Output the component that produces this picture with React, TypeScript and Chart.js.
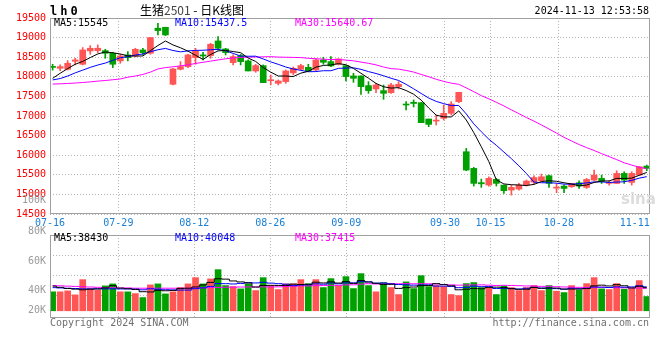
import React, { useEffect, useRef } from 'react';
import { Chart, registerables } from 'chart.js';

Chart.register(...registerables);

// ---------- data ----------
const dates = [
  '07-16','07-17','07-18','07-19','07-22','07-23','07-24','07-25','07-26','07-29',
  '07-30','07-31','08-01','08-02','08-05','08-06','08-07','08-08','08-09','08-12',
  '08-13','08-14','08-15','08-16','08-19','08-20','08-21','08-22','08-23','08-26',
  '08-27','08-28','08-29','08-30','09-02','09-03','09-04','09-05','09-06','09-09',
  '09-10','09-11','09-12','09-13','09-18','09-19','09-20','09-23','09-24','09-25',
  '09-26','09-27','09-30','10-08','10-09','10-10','10-11','10-14','10-15','10-16',
  '10-17','10-18','10-21','10-22','10-23','10-24','10-25','10-28','10-29','10-30',
  '10-31','11-01','11-04','11-05','11-06','11-07','11-08','11-11','11-12','11-13',
];

const tickDates = ['07-16','07-29','08-12','08-26','09-09','09-30','10-15','10-28','11-11'];

const opens = [
  18250,18217,18192,18396,18320,18660,18668,18668,18600,18405,
  18558,18532,18685,18600,19239,19264,17809,18192,18260,18490,
  18560,18541,18915,18711,18362,18541,18405,18149,18285,17900,
  17834,17877,18100,18192,18243,18175,18430,18388,18320,18285,
  18022,18022,17775,17690,17647,17596,17749,17300,17350,17340,
  16923,16870,16940,17068,17366,16089,15664,15300,15238,15383,
  15238,15111,15136,15238,15315,15348,15476,15160,15212,15195,
  15297,15178,15365,15408,15280,15280,15535,15306,15493,15722,
];
const highs = [
  18320,18303,18413,18473,18745,18796,18813,18702,18626,18575,
  18643,18728,18728,19000,19366,19264,18217,18388,18575,18728,
  18626,18855,19026,18728,18558,18575,18430,18320,18303,18047,
  17920,18175,18250,18320,18320,18456,18498,18515,18456,18285,
  18090,18022,17877,17834,17792,17834,17877,17366,17410,17340,
  16923,17025,17281,17366,17604,16174,15689,15391,15451,15409,
  15238,15238,15281,15366,15475,15518,15493,15280,15237,15280,
  15348,15408,15620,15493,15348,15603,15578,15578,15706,15748,
];
const lows = [
  18170,18158,18175,18303,18303,18575,18617,18473,18234,18345,
  18405,18507,18558,18575,19068,19051,17792,18175,18234,18320,
  18430,18473,18685,18558,18303,18303,18149,18115,17851,17792,
  17792,17834,18047,18175,18132,18149,18320,18260,18302,17894,
  17860,17553,17579,17596,17426,17579,17690,17153,17230,16830,
  16728,16770,16898,17025,17340,15604,15213,15179,15213,15213,
  15026,14983,15111,15213,15260,15323,15178,15042,15042,15178,
  15152,15152,15348,15280,15237,15280,15280,15237,15493,15603,
];
const closes = [
  18240,18260,18345,18430,18685,18728,18728,18600,18320,18532,
  18490,18702,18617,19000,19179,19068,18200,18260,18558,18660,
  18530,18830,18728,18617,18515,18388,18149,18285,17851,17920,
  17894,18149,18217,18285,18149,18430,18370,18277,18456,18005,
  17962,17749,17647,17792,17579,17792,17809,17280,17320,16830,
  16787,16890,17068,17306,17604,15621,15281,15270,15409,15281,
  15094,15179,15238,15340,15430,15450,15280,15170,15152,15280,
  15212,15382,15493,15340,15295,15535,15365,15535,15706,15663,
];

const ma5 = [
  17960,18090,18210,18320,18392,18490,18583,18634,18612,18582,
  18534,18529,18532,18668,18798,18913,18813,18741,18653,18549,
  18442,18568,18661,18673,18644,18616,18479,18391,18238,18119,
  18020,18020,18006,18093,18139,18246,18290,18302,18336,18308,
  18214,18090,17964,17831,17746,17712,17724,17650,17556,17406,
  17205,17021,16979,16976,17131,16898,16576,16216,15837,15372,
  15267,15247,15240,15226,15256,15327,15348,15334,15296,15266,
  15219,15239,15304,15341,15344,15409,15406,15414,15487,15561,
];
const ma10 = [
  17920,17955,18020,18100,18170,18240,18300,18350,18420,18487,
  18512,18556,18583,18640,18690,18724,18671,18637,18661,18673,
  18677,18690,18701,18663,18597,18529,18524,18526,18455,18381,
  18318,18250,18199,18165,18129,18133,18155,18154,18215,18223,
  18230,18190,18133,18084,18027,17963,17907,17807,17694,17576,
  17459,17373,17315,17266,17269,17052,16799,16598,16407,16252,
  16082,15911,15728,15532,15314,15297,15297,15287,15261,15261,
  15273,15293,15319,15319,15305,15314,15322,15359,15414,15453,
];
const ma30 = [
  17815,17820,17830,17840,17855,17870,17890,17905,17925,17945,
  17990,18020,18060,18120,18200,18235,18255,18280,18305,18340,
  18370,18400,18430,18460,18480,18495,18500,18505,18510,18514,
  18503,18499,18495,18490,18472,18462,18450,18439,18444,18426,
  18408,18376,18344,18304,18250,18208,18195,18162,18121,18060,
  18002,17937,17882,17838,17808,17716,17620,17519,17438,17350,
  17257,17158,17059,16961,16870,16771,16668,16564,16454,16363,
  16272,16193,16121,16039,15963,15888,15806,15748,15694,15655,
];

const volumes = [
  31500,31500,33100,26500,51800,36400,34300,41400,44700,31500,
  31500,28600,22000,43000,44700,28100,31500,38600,44700,55100,
  44700,53000,68400,41900,40200,36400,44700,33600,55100,41900,
  35300,44700,44700,51800,44700,51800,38600,53500,41900,56800,
  36900,61800,41900,31500,46900,38600,27000,48000,36900,58400,
  40200,41900,40200,27000,25300,45200,46900,38600,38600,27000,
  41400,38600,33600,38600,41900,33600,41900,32600,30300,41900,
  34300,45200,55100,36400,35300,45200,35900,36900,50200,23700,
];
const volMa5 = [
  41000,39000,37000,36000,34900,35900,36400,38100,41700,37700,
  36700,35500,31700,31300,34000,33300,33900,37200,37500,39600,
  42900,47200,53200,52600,49600,48000,46300,39400,42000,42300,
  42100,42100,44300,43700,44200,47500,46300,48100,46100,48500,
  45500,50200,47900,45800,43800,44100,37200,38400,39500,41800,
  42100,45100,43500,41500,34900,35900,36900,36600,38900,39300,
  38500,36800,35800,35800,38800,37300,37900,37700,36100,36100,
  36200,36900,41400,42600,41300,43400,41600,37900,40700,38400,
];
const volMa10 = [
  38500,38000,37500,37000,36500,36500,36500,36500,36500,36300,
  36300,36000,34900,36500,35800,35000,34700,34400,34400,36800,
  38100,40500,45200,45100,44600,45500,46800,46300,47300,46000,
  45100,44200,41900,42800,43300,44800,44200,46200,44900,46400,
  46500,48300,48000,45900,46200,44800,43700,43100,42600,42800,
  43100,41100,41000,40500,38400,39000,41000,40100,40200,37100,
  37200,36900,36200,37400,39000,37900,37400,36800,36000,37400,
  36700,37400,39500,39300,38700,39800,39200,39700,41600,39800,
];
const volMa30 = [
  42000,41500,41000,40500,40000,39500,39000,38500,38500,38000,
  38000,37500,37500,37500,37500,37500,37500,37500,37500,38000,
  38200,38500,38800,39100,39300,39500,39600,39700,39700,39700,
  39800,40300,40700,41500,41300,41800,41900,42300,42200,43100,
  43200,44300,45000,44600,44700,45000,44900,45200,44900,45000,
  44900,44500,43600,43100,42600,42900,43000,43100,42600,42100,
  42300,42100,41700,41300,41200,40600,40700,40000,39600,39100,
  39000,38500,38900,39100,38700,38300,38200,37900,37900,37400,
];

const priceLegend = ['MA5:15545', 'MA10:15437.5', 'MA30:15640.67'];
const volLegend = ['MA5:38430', 'MA10:40048', 'MA30:37415'];
const volAxisLabels = ['100K', '80K', '60K', '40K', '20K'];

// ---------- styles / layout ----------
const W = 660;
const RED = '#ff5555';
const GREEN = '#00a000';
const GRID = '#b4b4b4';
const FRAME = '#a0a0a0';
const DATE_BLUE = '#1a80d8';
const MONO = '"DejaVu Sans Mono", "Liberation Mono", monospace';
const MA_COLORS = ['#000000', '#0000ff', '#ff00ff'];

const N = dates.length;
const X_MIN = -0.35;
const X_MAX = N - 1 + 0.43;
const tickIdx = tickDates.map((d) => dates.indexOf(d));
const gridValue = (idx: number) => X_MIN + (idx * (X_MAX - X_MIN)) / (N - 1);
const candleColors = closes.map((c, i) => (c >= opens[i] ? RED : GREEN));

const PRICE_MIN = 14500;
const PRICE_MAX = 19500;
const PRICE_STEP = 500;
const VOL_MIN = -12000;
const VOL_MAX = 126000;
const volGridValues = [26100, 59200, 92400];
const volLabelY = [200, 231, 261, 290, 310]; // page y of the volume axis labels
const VOL_CANVAS_TOP = 190;

const framePlugin = {
  id: 'frame',
  afterDraw(chart: any) {
    const { ctx, chartArea: a } = chart;
    ctx.save();
    ctx.strokeStyle = FRAME;
    ctx.lineWidth = 1;
    ctx.strokeRect(Math.round(a.left) + 0.5, Math.round(a.top) + 0.5, Math.round(a.width) - 1, Math.round(a.height) - 1);
    ctx.restore();
  },
};

const volLabelsPlugin = {
  id: 'volLabels',
  afterDraw(chart: any) {
    const { ctx } = chart;
    ctx.save();
    ctx.fillStyle = '#9a9a9a';
    ctx.font = `10px ${MONO}`;
    ctx.textAlign = 'right';
    ctx.textBaseline = 'middle';
    volAxisLabels.forEach((t, i) => ctx.fillText(t, 46, volLabelY[i] - VOL_CANVAS_TOP));
    ctx.restore();
  },
};

const xScale = (showLabels: boolean) => ({
  type: 'linear',
  min: X_MIN,
  max: X_MAX,
  offset: false,
  afterBuildTicks: (s: any) => {
    s.ticks = tickIdx.map((i) => ({ value: gridValue(i) }));
  },
  ticks: {
    display: showLabels,
    autoSkip: false,
    maxRotation: 0,
    padding: 3,
    color: DATE_BLUE,
    font: { family: MONO, size: 10 },
    callback: (_v: any, i: number) => tickDates[i],
  },
  grid: {
    offset: false,
    drawTicks: false,
    lineWidth: 1,
    color: (c: any) => (c.index === tickIdx.length - 1 ? 'rgba(0,0,0,0)' : GRID),
  },
  border: { display: false, dash: [1, 2] },
});

const line = (label: string, data: number[], color: string, stepped: any = false) => ({
  type: 'line',
  label,
  data: data.map((y, x) => ({ x, y })),
  borderColor: color,
  borderWidth: 1,
  pointRadius: 0,
  tension: 0,
  stepped,
  order: 0,
});

export default function App() {
  const priceRef = useRef<HTMLCanvasElement>(null);
  const volRef = useRef<HTMLCanvasElement>(null);

  useEffect(() => {
    const price = new Chart(priceRef.current as HTMLCanvasElement, {
      type: 'bar',
      data: {
        datasets: [
          line('MA5', ma5, MA_COLORS[0]),
          line('MA10', ma10, MA_COLORS[1]),
          line('MA30', ma30, MA_COLORS[2]),
          {
            type: 'bar',
            label: 'wick',
            data: lows.map((l, x) => ({ x, y: [l, highs[x]] })),
            backgroundColor: candleColors,
            barThickness: 1,
            grouped: false,
            order: 2,
          },
          {
            type: 'bar',
            label: 'body',
            data: opens.map((o, x) => ({ x, y: [o, closes[x]] })),
            backgroundColor: candleColors,
            barThickness: 6,
            minBarLength: 1,
            grouped: false,
            order: 1,
          },
        ] as any,
      },
      options: {
        responsive: false,
        animation: false,
        events: [],
        layout: { padding: { left: 0, right: 10, top: 18, bottom: 0 } },
        plugins: { legend: { display: false }, tooltip: { enabled: false } },
        scales: {
          x: { ...xScale(true), afterFit: (s: any) => { s.height = 18; } } as any,
          y: {
            min: PRICE_MIN,
            max: PRICE_MAX,
            ticks: {
              stepSize: PRICE_STEP,
              color: '#ff0000',
              padding: 4,
              font: { family: MONO, size: 10 },
              callback: (v: any) => String(v),
            },
            grid: { drawTicks: false, color: GRID, lineWidth: 1 },
            border: { display: false, dash: [1, 2] },
            afterFit: (s: any) => { s.width = 50; },
          } as any,
        },
      },
      plugins: [framePlugin],
    });

    const vol = new Chart(volRef.current as HTMLCanvasElement, {
      type: 'bar',
      data: {
        datasets: [
          line('MA5', volMa5, MA_COLORS[0], 'middle'),
          line('MA10', volMa10, MA_COLORS[1], 'middle'),
          line('MA30', volMa30, MA_COLORS[2], 'middle'),
          {
            type: 'bar',
            label: 'volume',
            data: volumes.map((y, x) => ({ x, y })),
            backgroundColor: candleColors,
            barThickness: 6,
            grouped: false,
            order: 1,
          },
        ] as any,
      },
      options: {
        responsive: false,
        animation: false,
        events: [],
        layout: { padding: { left: 0, right: 10, top: 45, bottom: 0 } },
        plugins: { legend: { display: false }, tooltip: { enabled: false } },
        scales: {
          x: { ...xScale(false), afterFit: (s: any) => { s.height = 42; } } as any,
          y: {
            min: VOL_MIN,
            max: VOL_MAX,
            afterBuildTicks: (s: any) => {
              s.ticks = volGridValues.map((value) => ({ value }));
            },
            ticks: { display: false },
            grid: { drawTicks: false, color: GRID, lineWidth: 1 },
            border: { display: false, dash: [1, 2] },
            afterFit: (s: any) => { s.width = 50; },
          } as any,
        },
      },
      plugins: [framePlugin, volLabelsPlugin],
    });

    return () => {
      price.destroy();
      vol.destroy();
    };
  }, []);

  const txt = (
    key: string,
    text: React.ReactNode,
    x: number,
    y: number,
    color: string,
    opts: { size?: number; bold?: boolean; family?: string; right?: boolean; spacing?: number } = {}
  ) => {
    const size = opts.size ?? 10;
    const style: React.CSSProperties = {
      position: 'absolute',
      top: y,
      transform: 'translateY(-50%)',
      color,
      fontFamily: opts.family ?? MONO,
      fontSize: size,
      fontWeight: opts.bold ? 'bold' : 'normal',
      lineHeight: `${size + 2}px`,
      whiteSpace: 'nowrap',
      letterSpacing: opts.spacing ? `${opts.spacing}px` : undefined,
    };
    if (opts.right) style.right = W - x;
    else style.left = x;
    return (
      <div key={key} style={style}>
        {text}
      </div>
    );
  };

  return (
    <div style={{ position: 'absolute', left: 0, top: 0, width: W, height: 360, background: '#fff', overflow: 'hidden' }}>
      <canvas ref={priceRef} width={W} height={232} style={{ position: 'absolute', left: 0, top: 0 }} />
      <canvas ref={volRef} width={W} height={170} style={{ position: 'absolute', left: 0, top: VOL_CANVAS_TOP }} />
      {txt('code', 'lh0', 50, 11, '#000', { size: 12, bold: true, spacing: 3 })}
      {txt(
        'title',
        <span>
          生猪<span style={{ color: '#444' }}>2501</span> - 日K线图
        </span>,
        140,
        10,
        '#000',
        { size: 12, family: '"Noto Sans CJK SC", "Noto Sans", sans-serif' }
      )}
      {txt('time', '2024-11-13 12:53:58', 649, 11, '#000', { right: true })}
      {priceLegend.map((t, i) => txt('pl' + i, t, [54, 175, 295][i], 23, MA_COLORS[i]))}
      {volLegend.map((t, i) => txt('vl' + i, t, [54, 175, 295][i], 238, MA_COLORS[i]))}
      {txt('sina', 'sina', 621, 199, '#dcdcdc', { size: 15, bold: true, family: 'Verdana, "DejaVu Sans", sans-serif' })}
      {txt('copy', 'Copyright 2024 SINA.COM', 50, 323, '#707070')}
      {txt('url', 'http://finance.sina.com.cn', 649, 323, '#707070', { right: true })}
    </div>
  );
}
